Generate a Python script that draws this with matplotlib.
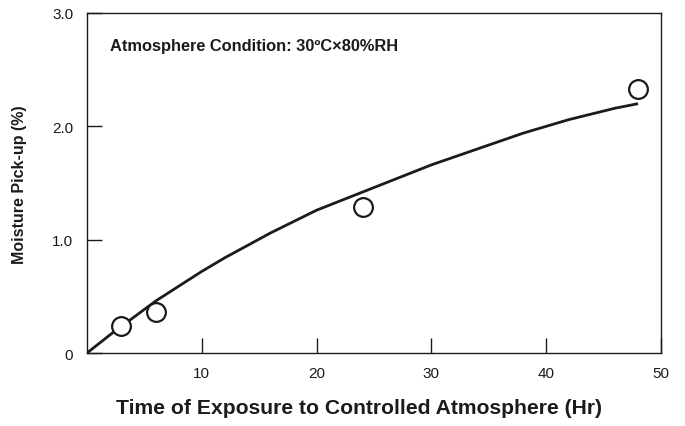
import matplotlib
matplotlib.use("Agg")
import matplotlib.pyplot as plt

plt.rcParams['font.family'] = ['Liberation Sans', 'DejaVu Sans']

# Measured data points
hours = [3, 6, 24, 48]
pickup = [0.24, 0.36, 1.29, 2.33]

# Fitted curve
curve_x = [0, 2, 4, 6, 8, 10, 12, 14, 16, 18, 20, 22, 24, 26, 28, 30, 32, 34, 36, 38, 40, 42, 44, 46, 48]
curve_y = [0.0, 0.16, 0.31, 0.46, 0.59, 0.72, 0.84, 0.95, 1.06, 1.16, 1.26, 1.34, 1.42, 1.50, 1.58,
           1.66, 1.73, 1.80, 1.87, 1.94, 2.00, 2.06, 2.11, 2.16, 2.20]

xticks = [10, 20, 30, 40, 50]
xtick_labels = ['10', '20', '30', '40', '50']
yticks = [0, 1.0, 2.0, 3.0]
ytick_labels = ['0', '1.0', '2.0', '3.0']

ink = '#1e1a1b'

fig = plt.figure(figsize=(6.85, 4.27), dpi=100)
ax = fig.add_axes([87/685, 1 - 354/427, (661 - 87)/685, (354 - 14)/427])

ax.plot(curve_x, curve_y, color=ink, lw=2.0, solid_capstyle='butt', solid_joinstyle='round', zorder=2)
ax.plot(hours, pickup, linestyle='none', marker='o', markersize=13.5,
        markerfacecolor='white', markeredgecolor=ink, markeredgewidth=1.6, zorder=3)

ax.set_xlim(0, 50)
ax.set_ylim(0, 3.0)
ax.set_xticks(xticks)
ax.set_xticklabels(xtick_labels)
ax.set_yticks(yticks)
ax.set_yticklabels(ytick_labels)
ax.tick_params(direction='in', length=11, width=1.0, color=ink, labelsize=11, labelcolor=ink)
ax.tick_params(axis='x', pad=9)
ax.tick_params(axis='y', pad=10)

for s in ax.spines.values():
    s.set_color(ink)
    s.set_linewidth(1.0)

ax.set_xlabel('Time of Exposure to Controlled Atmosphere (Hr)', fontsize=15.2, fontweight='bold',
              color=ink)
ax.xaxis.set_label_coords((359 - 87) / (661 - 87), -(408 - 354) / (354 - 14))
ax.xaxis.label.set_va('center')
ax.set_ylabel('Moisture Pick-up (%)', fontsize=11.5, fontweight='bold', color=ink)
ax.yaxis.set_label_coords(-(87 - 20) / (661 - 87), (354 - 185) / (354 - 14))
ax.yaxis.label.set_va('center')

ax.text(2.0, 2.71, 'Atmosphere Condition: 30ºC×80%RH', fontsize=11.8, fontweight='bold',
        color=ink, ha='left', va='center')

fig.savefig('out.png', dpi=100)
